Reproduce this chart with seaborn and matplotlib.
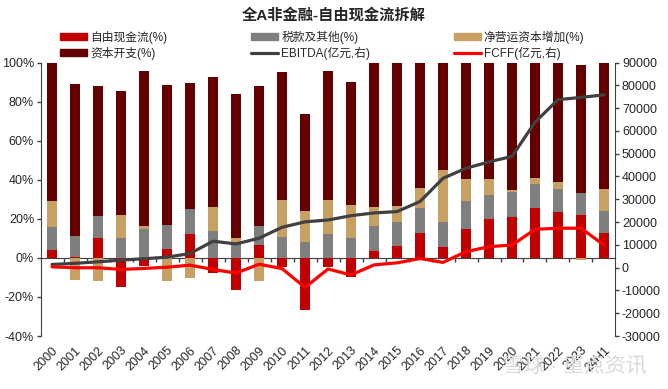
import numpy as np
import pandas as pd
import seaborn as sns
import matplotlib.pyplot as plt
from matplotlib.patches import Patch
from matplotlib.lines import Line2D

# data
years = ['2000', '2001', '2002', '2003', '2004', '2005', '2006', '2007', '2008', '2009',
         '2010', '2011', '2012', '2013', '2014', '2015', '2016', '2017', '2018', '2019',
         '2020', '2021', '2022', '2023', '24H1']
fcf = [3.8, 0.7, 10.1, -14.7, -4.3, 4.3, 12.3, -7.5, -16.4, 6.5, -4.8, -26.5, -4.6, -9.9,
       3.4, 6.0, 12.8, 5.8, 15.0, 19.7, 20.9, 25.3, 23.4, 21.7, 12.5]
tax = [12.0, 10.3, 11.3, 10.4, 14.7, 12.5, 12.6, 13.7, 8.2, 9.6, 10.9, 8.0, 12.0, 10.4,
       12.8, 12.6, 12.5, 12.8, 14.0, 12.6, 12.6, 12.5, 11.8, 11.5, 11.5]
nwc = [13.2, -11.1, -12.0, 11.5, 1.5, -11.8, -10.3, 12.3, 1.9, -12.0, 18.8, 16.1, 17.8, 16.6,
       9.7, 7.7, 10.6, 26.2, 11.3, 7.9, 1.0, 3.2, 3.6, -1.0, 11.1]
capex = [71.0, 78.1, 66.8, 63.6, 79.5, 71.5, 64.8, 66.7, 73.7, 72.1, 65.6, 49.6, 65.6, 63.1,
         74.1, 73.7, 64.1, 55.2, 59.7, 59.8, 65.5, 59.0, 61.2, 65.6, 64.9]
ebitda = [1400, 1900, 2550, 3300, 3900, 4600, 6200, 11600, 10400, 12900, 17700, 20100, 20900,
          22800, 24000, 24600, 29000, 39200, 43600, 46400, 48800, 63800, 73700, 74700, 75800]
fcff = [350, -50, -50, -800, -350, 200, 1100, -800, -2400, 1500, -400, -8700, -600, -3200,
        1200, 2100, 4000, 2300, 7000, 9200, 9900, 16800, 17300, 17300, 9900]

series = [
    ('自由现金流(%)', fcf, '#C00000'),
    ('税款及其他(%)', tax, '#7F7F7F'),
    ('净营运资本增加(%)', nwc, '#C9A063'),
    ('资本开支(%)', capex, '#640000'),
]

sns.set_style('white')
plt.rcParams['font.family'] = ['Liberation Sans', 'Noto Sans CJK SC', 'DejaVu Sans']
plt.rcParams['axes.unicode_minus'] = False

fig = plt.figure(figsize=(6.68, 3.89), dpi=100)
ax = fig.add_axes([0.0614, 0.1362, 0.8593, 0.7031])

# stacked bars, positives upward and negatives downward
pos_bottom = np.zeros(len(years))
neg_bottom = np.zeros(len(years))
for name, vals, col in series:
    v = np.array(vals)
    bottom = np.where(v >= 0, pos_bottom, neg_bottom)
    sns.barplot(x=years, y=v, bottom=bottom, color=col, width=0.4,
                saturation=1, linewidth=0, ax=ax)
    pos_bottom = pos_bottom + np.where(v >= 0, v, 0)
    neg_bottom = neg_bottom + np.where(v < 0, v, 0)

ax.set_ylim(-40, 100)
ax.set_xlim(-0.48, len(years) - 0.52)
ax.set_yticks(range(-40, 101, 20))
ax.set_yticklabels([f'{t}%' for t in range(-40, 101, 20)])
ax.set_xticks(range(len(years)))
ax.set_xticklabels(years, rotation=45, ha='right', rotation_mode='anchor')
ax.tick_params(axis='x', length=0, pad=6, labelsize=9)
ax.tick_params(axis='y', length=3, width=1, color='#404040', direction='out', left=True,
               labelsize=9, pad=2)
for s in ['top', 'bottom', 'right']:
    ax.spines[s].set_visible(False)
ax.spines['left'].set_color('#404040')
ax.set_xlabel('')
ax.set_ylabel('')

# zero line with small ticks between categories
zero = ax.secondary_xaxis(40 / 140)
zero.set_xticks(np.arange(0.5, len(years) - 1, 1))
zero.set_xticklabels([])
zero.tick_params(length=3, width=1, color='#404040', direction='out')
zero.spines['bottom'].set_color('#404040')

ax2 = ax.twinx()
sns.lineplot(x=np.arange(len(years)), y=ebitda, color='#404040', linewidth=2.3, ax=ax2)
sns.lineplot(x=np.arange(len(years)), y=fcff, color='#FF0000', linewidth=2.3, ax=ax2)
ax2.set_ylim(-30000, 90000)
ax2.set_yticks(range(-30000, 90001, 10000))
ax2.tick_params(axis='y', length=3, width=1, color='#404040', direction='out', right=True,
                labelsize=9, pad=2)
for s in ['top', 'bottom', 'left']:
    ax2.spines[s].set_visible(False)
ax2.spines['right'].set_color('#404040')
ax2.set_xlim(ax.get_xlim())

handles = [
    Patch(color='#C00000', label='自由现金流(%)'),
    Patch(color='#7F7F7F', label='税款及其他(%)'),
    Patch(color='#C9A063', label='净营运资本增加(%)'),
    Patch(color='#640000', label='资本开支(%)'),
    Line2D([], [], color='#404040', lw=2.3, label='EBITDA(亿元,右)'),
    Line2D([], [], color='#FF0000', lw=2.3, label='FCFF(亿元,右)'),
]
order = [0, 3, 1, 4, 2, 5]
fig.legend([handles[i] for i in order], [handles[i].get_label() for i in order],
           ncol=3, loc='lower left', bbox_to_anchor=(0.09, 0.846, 0.785, 0.09),
           mode='expand', frameon=False, fontsize=8.5, handlelength=2.3,
           handleheight=0.5, handletextpad=0.25, labelspacing=0.25, borderpad=0,
           borderaxespad=0)

fig.text(0.5, 0.962, '全A非金融-自由现金流拆解', ha='center', va='center',
         fontsize=11, fontweight='bold')
fig.text(0.86, 0.06, '雪球 · 重点资讯', ha='center', va='center', fontsize=15,
         color='#D9D9D9')

fig.savefig('out.png', dpi=100)
